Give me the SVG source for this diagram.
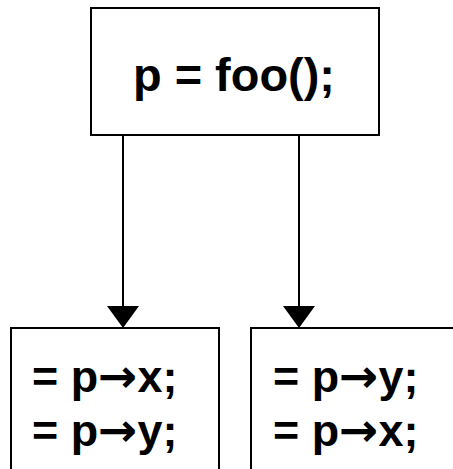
<svg xmlns="http://www.w3.org/2000/svg" width="453" height="469" viewBox="0 0 453 469">
<style>
.box{fill:#fff;stroke:#000;stroke-width:2}
.t{font-family:"Liberation Sans",Arial,sans-serif;font-weight:bold;fill:#000}
.big{font-size:46px}
.sm{font-size:44px}
.ar{font-family:"DejaVu Sans",sans-serif;font-weight:bold;font-size:46px}
.wire{stroke:#000;stroke-width:2;fill:none}
</style>
<rect width="453" height="469" fill="#fff"/>
<g id="connectors">
<line class="wire" x1="123" y1="135" x2="123" y2="307"/>
<polygon points="107,306 139,306 123,328" fill="#000"/>
<line class="wire" x1="299" y1="135" x2="299" y2="307"/>
<polygon points="283,306 315,306 299,328" fill="#000"/>
</g>
<g id="top">
<rect class="box" x="91" y="8" width="288" height="127"/>
<text class="t big" transform="translate(133,91) scale(1.02,1)">p = foo();</text>
</g>
<g id="left">
<path class="box" d="M11,470 V328 H219 V470"/>
<text class="t sm" transform="translate(32,392) scale(1.02,1)">= p<tspan class="ar">→</tspan>x;</text>
<text class="t sm" transform="translate(32,446) scale(1.02,1)">= p<tspan class="ar">→</tspan>y;</text>
</g>
<g id="right">
<path class="box" d="M251,470 V328 H460"/>
<text class="t sm" transform="translate(273,392) scale(1.02,1)">= p<tspan class="ar">→</tspan>y;</text>
<text class="t sm" transform="translate(273,446) scale(1.02,1)">= p<tspan class="ar">→</tspan>x;</text>
</g>
</svg>
